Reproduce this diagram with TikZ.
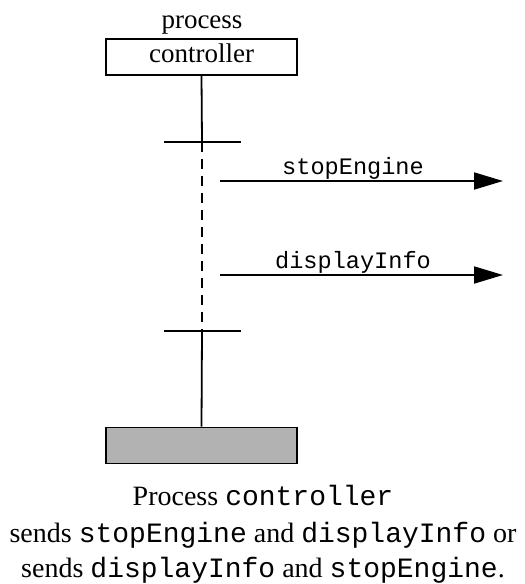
\documentclass[tikz,border=0pt]{standalone}
\usepackage{fontspec}
\setmainfont{Liberation Serif}
\setmonofont{Liberation Mono}
\usetikzlibrary{positioning,arrows.meta}

\begin{document}
\begin{tikzpicture}[x=1pt,y=-1pt,>={Triangle[length=29pt,width=17pt]},
  every node/.style={font=\fontsize{27}{31}\selectfont},
  life/.style={line width=1.8pt},
  procbox/.style={draw,line width=1.8pt,minimum width=191pt,minimum height=36pt,inner sep=0pt,text height=18pt,text depth=7pt},
  msg/.style={->,line width=1.8pt},
  capline/.style={anchor=base,font=\fontsize{28}{34}\selectfont}]
  \useasboundingbox (0,0) rectangle (525,584);
  % head and end of the process
  \node[procbox] (ctrl) at (201.5,57) {controller};
  \node[anchor=base] (pname) at (202,28) {process};
  \node[procbox,fill=black!30] (tail) at (201.5,445.5) {};
  % lifeline, dashed between the two bars
  \coordinate (bar1) at (202,142);
  \coordinate (bar2) at (202,331);
  \draw[life] (ctrl.south) -- (bar1);
  \draw[life,dash pattern=on 10pt off 7pt] (bar1) -- (bar2);
  \draw[life] (bar2) -- (tail.north);
  \draw[life] ([xshift=-38pt]bar1) -- ([xshift=39pt]bar1);
  \draw[life] ([xshift=-38pt]bar2) -- ([xshift=39pt]bar2);
  % the two messages
  \foreach \y/\m in {181/stopEngine,275/displayInfo} {
    \coordinate (from-\m) at (220,\y);
    \coordinate (to-\m) at (503,\y);
    \draw[msg] (from-\m) -- node[pos=0.47,above,inner sep=1pt,font=\fontsize{23.6}{28}\selectfont] (lbl-\m) {\texttt{\m}} (to-\m);
  }
  % caption
  \node[capline] (cap1) at (263,505) {Process \texttt{controller}};
  \node[capline] (cap2) at (263,542) {sends \texttt{stopEngine} and \texttt{displayInfo} or};
  \node[capline] (cap3) at (263,577) {sends \texttt{displayInfo} and \texttt{stopEngine}.};
\end{tikzpicture}
\end{document}
